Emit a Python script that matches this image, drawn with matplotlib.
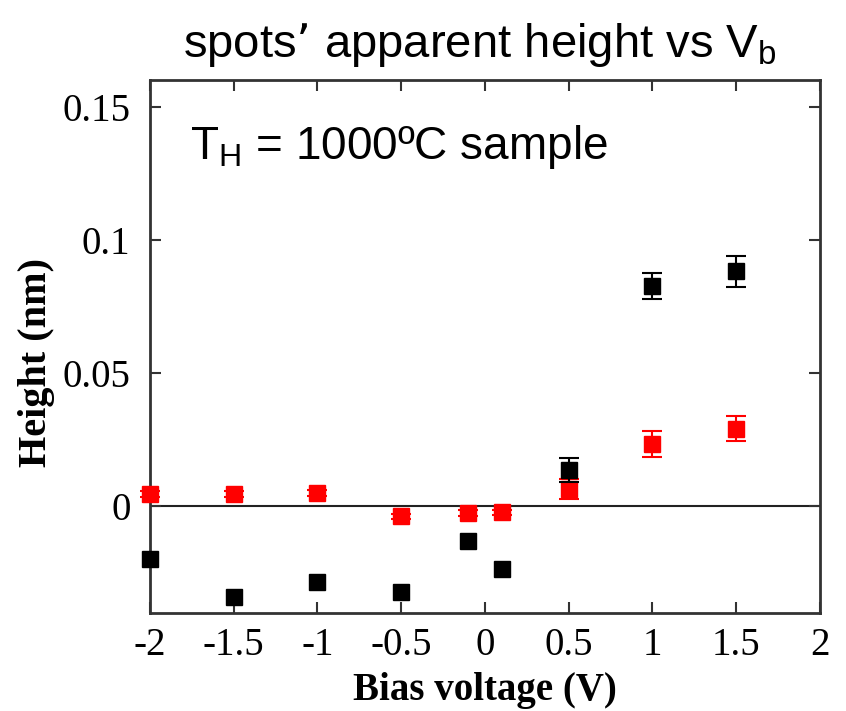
import numpy as np
import matplotlib.pyplot as plt

# bias voltage (V)
v_black = [-2.0, -1.5, -1.0, -0.5, -0.1, 0.1, 0.5, 1.0, 1.5]
h_black = [-0.020, -0.034, -0.0286, -0.0323, -0.0132, -0.0237, 0.0135, 0.0827, 0.0883]
e_black = [0.0, 0.0, 0.0, 0.0, 0.0, 0.0, 0.0045, 0.005, 0.0058]

v_red = [-2.0, -1.5, -1.0, -0.5, -0.1, 0.1, 0.5, 1.0, 1.5]
h_red = [0.0045, 0.0045, 0.0049, -0.0038, -0.0026, -0.0023, 0.0064, 0.0233, 0.029]
e_red = [0.001, 0.001, 0.001, 0.001, 0.001, 0.001, 0.0038, 0.005, 0.0047]

xticks = [-2, -1.5, -1, -0.5, 0, 0.5, 1, 1.5, 2]
xtick_labels = ['-2', '-1.5', '-1', '-0.5', '0', '0.5', '1', '1.5', '2']
yticks = [0, 0.05, 0.1, 0.15]
ytick_labels = ['0', '0.05', '0.1', '0.15']

fig = plt.figure(figsize=(8.46, 7.11), dpi=100)
ax = fig.add_axes([0.1773, 0.1378, 0.7917, 0.7497])

ax.axhline(0, color='#222222', lw=1.5, zorder=1)


def draw_series(v, h, e, color, z):
    v, h, e = np.array(v), np.array(h), np.array(e)
    has_err = e > 0
    # only draw bars where there is an error
    ax.errorbar(v[has_err], h[has_err], yerr=e[has_err], fmt='none', ecolor=color,
                capsize=7, elinewidth=1.5, capthick=1.5, clip_on=False, zorder=z)
    ax.plot(v, h, 's', color=color, ms=11, clip_on=False, zorder=z)


draw_series(v_red, h_red, e_red, 'red', 3)
draw_series(v_black, h_black, e_black, 'black', 4)

ax.set_xlim(-2, 2)
ax.set_ylim(-0.0402, 0.1602)
ax.set_xticks(xticks)
ax.set_xticklabels(xtick_labels)
ax.set_yticks(yticks)
ax.set_yticklabels(ytick_labels)

serif = 'Liberation Serif'
for lab in ax.get_xticklabels() + ax.get_yticklabels():
    lab.set_family(serif)
    lab.set_fontsize(28)

ax.tick_params(direction='in', length=8, width=1.5, top=True, right=True,
               colors='#333333', labelcolor='black')
ax.tick_params(axis='y', pad=14)
ax.tick_params(axis='x', pad=10)
for s in ax.spines.values():
    s.set_linewidth(2)
    s.set_color('#333333')

ax.set_xlabel('Bias voltage (V)', family=serif, fontweight='bold', fontsize=28, va='center')
ax.set_ylabel('Height (nm)', family=serif, fontweight='bold', fontsize=29, va='center')
ax.xaxis.set_label_coords(0.5, -0.145)
ax.yaxis.set_label_coords(-0.17, 0.47)

fig.text(0.567, 0.937, r'spots’ apparent height vs V$_\mathregular{b}$',
         family='Liberation Sans', fontsize=34, ha='center', va='center')
ax.text(0.06, 0.875, r'T$_\mathregular{H}$ = 1000ºC sample', transform=ax.transAxes,
        family='Liberation Sans', fontsize=33, ha='left', va='center')

fig.savefig('out.png', dpi=100)
